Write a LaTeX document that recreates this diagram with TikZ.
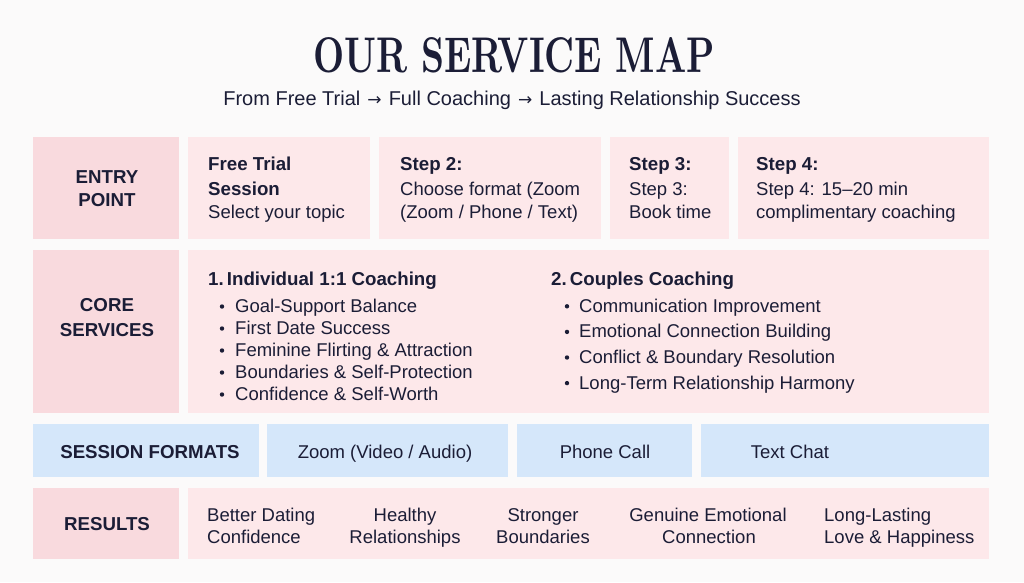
\documentclass[tikz,border=0pt]{standalone}
\usepackage{fontspec}
\usepackage{graphicx}
\setsansfont{Liberation Sans}
\newfontfamily\arrowfont{DejaVu Sans}
\newcommand{\myarrow}{\hspace{1.5pt}{\arrowfont\fontsize{17}{17}\selectfont →}\hspace{1.5pt}}
\definecolor{ink}{HTML}{1B1D36}
\definecolor{pinkL}{HTML}{F9DADE}
\definecolor{pinkC}{HTML}{FDE8EA}
\definecolor{blueB}{HTML}{D5E7FA}
\definecolor{bg}{HTML}{FBFAFA}
\begin{document}
\begin{tikzpicture}[x=1pt,y=-1pt,
  labelbox/.style={fill=pinkL, draw=none, inner sep=0, anchor=north west},
  contbox/.style={fill=pinkC, draw=none, inner sep=0, anchor=north west},
  bluebox/.style={fill=blueB, draw=none, inner sep=0, anchor=north west},
  txt/.style={inner sep=0, text=ink, font=\sffamily\fontsize{18.5}{22}\selectfont},
  btxt/.style={txt, font=\sffamily\bfseries\fontsize{18.7}{22}\selectfont},
  lt/.style={txt, anchor=base west},
  blt/.style={btxt, anchor=base west},
  ct/.style={txt, anchor=base},
  bct/.style={btxt, anchor=base},
  dot/.style={circle, fill=ink, inner sep=0, minimum size=4.4pt}
]
\fill[bg] (0,0) rectangle (1024,582);
\useasboundingbox (0,0) rectangle (1024,582);

% title
\node[inner sep=0, anchor=base, text=ink] (title) at (514,72)
  {\resizebox{402pt}{35pt}{\bfseries OUR SERVICE MAP}};
\node[inner sep=0, anchor=base, text=ink, font=\sffamily\fontsize{20}{22}\selectfont] (subtitle) at (512,105)
  {From Free Trial \myarrow{} Full Coaching \myarrow{} Lasting Relationship Success};

% row 1: entry point
\node[labelbox, minimum width=146, minimum height=102] (entryL) at (33,137) {};
\node[contbox, minimum width=182, minimum height=102] (e1) at (188,137) {};
\node[contbox, minimum width=222, minimum height=102] (e2) at (379,137) {};
\node[contbox, minimum width=119, minimum height=102] (e3) at (610,137) {};
\node[contbox, minimum width=251, minimum height=102] (e4) at (738,137) {};

\node[bct] (entryA) at (107,183) {ENTRY};
\node[bct] (entryB) at (107,206) {POINT};

\node[blt] (e1a) at (208,170) {Free Trial};
\node[blt] (e1b) at (208,195.5) {Session};
\node[lt]  (e1c) at (208,218) {Select your topic};

\node[blt] (e2a) at (400,170) {Step 2:};
\node[lt]  (e2b) at (400,195.5) {Choose format (Zoom};
\node[lt]  (e2c) at (400,218) {(Zoom / Phone / Text)};

\node[blt] (e3a) at (629,170) {Step 3:};
\node[lt]  (e3b) at (629,195.5) {Step 3:};
\node[lt]  (e3c) at (629,218) {Book time};

\node[blt] (e4a) at (756,170) {Step 4:};
\node[lt]  (e4b) at (756,195.5) {Step 4: 15–20 min};
\node[lt]  (e4c) at (756,218) {complimentary coaching};

% row 2: core services
\node[labelbox, minimum width=146, minimum height=163] (coreL) at (33,250) {};
\node[contbox, minimum width=801, minimum height=163] (coreC) at (188,250) {};
\node[bct] (coreA) at (107,311.5) {CORE};
\node[bct] (coreB) at (107,336.5) {SERVICES};

\node[blt] (ind) at (208,285) {1.\,Individual 1:1 Coaching};
\foreach \t [count=\i] in {Goal-Support Balance, First Date Success, Feminine Flirting \& Attraction, Boundaries \& Self-Protection, Confidence \& Self-Worth}{
  \node[lt] (indi\i) at (235,{290.5+22*\i}) {\t};
  \node[dot] (indd\i) at (222,{284.5+22*\i}) {};
}

\node[blt] (cpl) at (551,285) {2.\,Couples Coaching};
\foreach \t [count=\i] in {Communication Improvement, Emotional Connection Building, Conflict \& Boundary Resolution, Long-Term Relationship Harmony}{
  \node[lt] (cpli\i) at (579,{286.7+25.6*\i}) {\t};
  \node[dot] (cpld\i) at (567,{280.7+25.6*\i}) {};
}

% row 3: session formats
\node[bluebox, minimum width=226, minimum height=53] (sesL) at (33,424) {};
\node[bluebox, minimum width=241, minimum height=53] (s1) at (267,424) {};
\node[bluebox, minimum width=175, minimum height=53] (s2) at (517,424) {};
\node[bluebox, minimum width=288, minimum height=53] (s3) at (701,424) {};
\node[bct] (sesT) at (150,458) {SESSION FORMATS};
\node[ct] (s1t) at (385,458) {Zoom (Video / Audio)};
\node[ct] (s2t) at (605,458) {Phone Call};
\node[ct] (s3t) at (790,458) {Text Chat};

% row 4: results
\node[labelbox, minimum width=146, minimum height=71] (resL) at (33,488) {};
\node[contbox, minimum width=801, minimum height=71] (resC) at (188,488) {};
\node[bct] (resT) at (107,530) {RESULTS};

\node[lt] (r1a) at (207,521) {Better Dating};
\node[lt] (r1b) at (207,543) {Confidence};
\node[ct] (r2a) at (405,521) {Healthy};
\node[ct] (r2b) at (405,543) {Relationships};
\node[ct] (r3a) at (543,521) {Stronger};
\node[ct] (r3b) at (543,543) {Boundaries};
\node[ct] (r4a) at (708,521) {Genuine Emotional};
\node[ct] (r4b) at (709,543) {Connection};
\node[lt] (r5a) at (824,521) {Long-Lasting};
\node[lt] (r5b) at (824,543) {Love \& Happiness};
\end{tikzpicture}
\end{document}
